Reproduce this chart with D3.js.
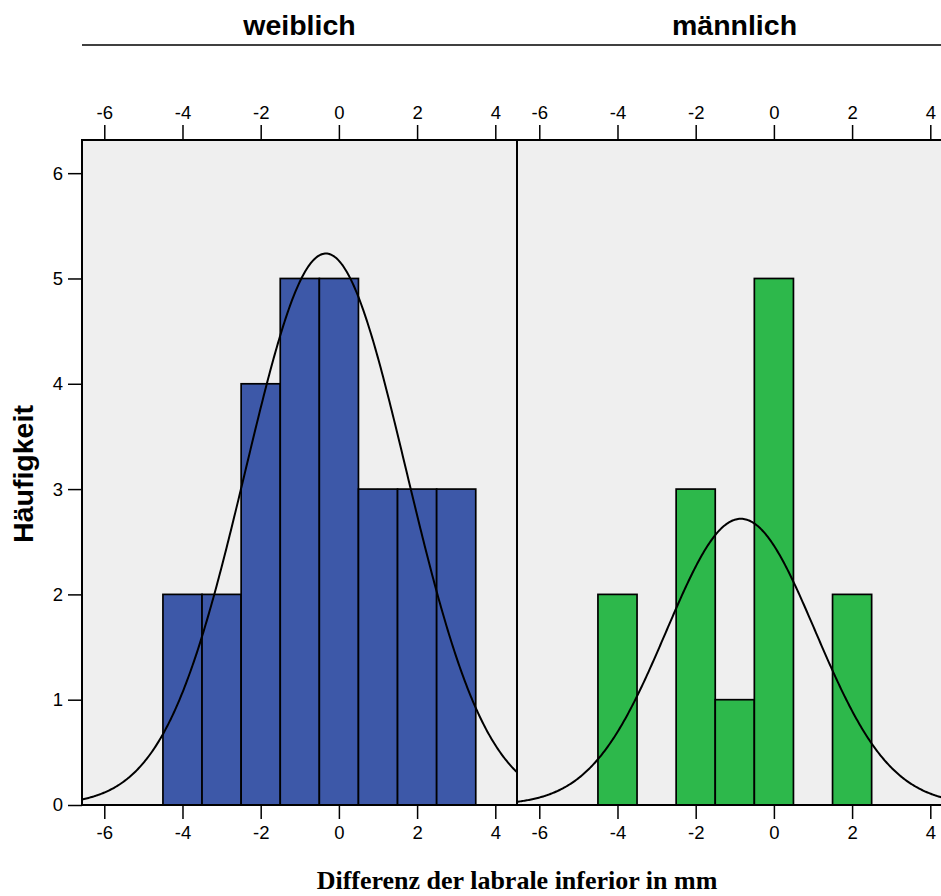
<!DOCTYPE html>
<html>
<head>
<meta charset="utf-8">
<script src="https://cdn.jsdelivr.net/npm/d3@7/dist/d3.min.js"></script>
<style>
  html, body { margin: 0; padding: 0; background: #ffffff; }
  svg { display: block; }
</style>
</head>
<body>
<svg id="chart" width="941" height="896"></svg>
<script>
// Histogram bins: width 1 mm, centred on integer differences
const binCenters = [-4, -3, -2, -1, 0, 1, 2, 3];
const countsWeiblich = [2, 2, 4, 5, 5, 3, 3, 3];
const countsMaennlich = [2, 0, 3, 1, 5, 0, 2, 0];

const panelTitles = ["weiblich", "männlich"];
const panelColors = ["#3d58a8", "#2db84b"];
const xTicks = [-6, -4, -2, 0, 2, 4];
const yTicks = [0, 1, 2, 3, 4, 5, 6];
const xTitle = "Differenz der labrale inferior in mm";
const yTitle = "Häufigkeit";

const svg = d3.select("#chart");

const panelW = 435;
const plotTop = 140, plotBottom = 805;
const panelLefts = [82, 517];

const y = d3.scaleLinear().domain([0, 6.315]).range([plotBottom, plotTop]);

// Normal curve from the binned counts (mean, sample SD, scaled to counts)
function normalFit(centers, counts) {
  const n = d3.sum(counts);
  const mean = d3.sum(centers, (c, i) => c * counts[i]) / n;
  const ss = d3.sum(centers, (c, i) => counts[i] * (c - mean) ** 2);
  const sd = Math.sqrt(ss / (n - 1));
  return x => n * 1 / (sd * Math.sqrt(2 * Math.PI)) * Math.exp(-0.5 * ((x - mean) / sd) ** 2);
}

const panels = [countsWeiblich, countsMaennlich];
const plainNum = d => String(d);   // ASCII hyphen for negatives

// header rule above both panels
svg.append("line")
  .attr("x1", 82).attr("x2", 941).attr("y1", 45).attr("y2", 45)
  .attr("stroke", "#000").attr("stroke-width", 1.5);

const defs = svg.append("defs");
const fontSans = "Liberation Sans, Arial, sans-serif";

panels.forEach((counts, p) => {
  const left = panelLefts[p];
  const x = d3.scaleLinear().domain([-6.57, 4.555]).range([left, left + panelW]);

  defs.append("clipPath").attr("id", "clip" + p)
    .append("rect").attr("x", left).attr("y", plotTop)
    .attr("width", panelW).attr("height", plotBottom - plotTop);

  // panel title
  svg.append("text")
    .attr("x", left + panelW / 2).attr("y", 35)
    .attr("text-anchor", "middle")
    .attr("font-family", fontSans)
    .attr("font-weight", "bold").attr("font-size", 28.5)
    .text(panelTitles[p]);

  // background
  svg.append("rect")
    .attr("x", left).attr("y", plotTop).attr("width", panelW).attr("height", plotBottom - plotTop)
    .attr("fill", "#efefef");

  const g = svg.append("g").attr("clip-path", "url(#clip" + p + ")");

  // bars
  g.selectAll("rect.bar")
    .data(binCenters.map((c, i) => ({ c, v: counts[i] })).filter(d => d.v > 0))
    .join("rect")
    .attr("class", "bar")
    .attr("x", d => x(d.c - 0.5))
    .attr("width", d => x(d.c + 0.5) - x(d.c - 0.5))
    .attr("y", d => y(d.v))
    .attr("height", d => y(0) - y(d.v))
    .attr("fill", panelColors[p])
    .attr("stroke", "#000").attr("stroke-width", 1.7);

  // fitted normal curve
  const f = normalFit(binCenters, counts);
  const pts = d3.range(0, 401).map(i => {
    const xv = -6.6 + i * (4.6 + 6.6) / 400;
    return [xv, f(xv)];
  });
  g.append("path")
    .attr("d", d3.line().x(d => x(d[0])).y(d => y(d[1]))(pts))
    .attr("fill", "none").attr("stroke", "#000").attr("stroke-width", 2);

  // axes top and bottom
  const topAxis = svg.append("g").attr("transform", `translate(0,${plotTop})`)
    .call(d3.axisTop(x).tickValues(xTicks).tickFormat(plainNum).tickSize(15).tickPadding(6).tickSizeOuter(0));
  const botAxis = svg.append("g").attr("transform", `translate(0,${plotBottom})`)
    .call(d3.axisBottom(x).tickValues(xTicks).tickFormat(plainNum).tickSize(14).tickPadding(7).tickSizeOuter(0));
  [topAxis, botAxis].forEach(a => {
    a.select(".domain").remove();
    a.selectAll("line").attr("stroke", "#000").attr("stroke-width", 1.5);
    a.selectAll("text").attr("font-family", fontSans).attr("font-size", 18.5).attr("fill", "#000");
  });

  // panel frame
  svg.append("rect")
    .attr("x", left).attr("y", plotTop).attr("width", panelW).attr("height", plotBottom - plotTop)
    .attr("fill", "none").attr("stroke", "#000").attr("stroke-width", 2);
});

// y axis
const yAxis = svg.append("g").attr("transform", `translate(82,0)`)
  .call(d3.axisLeft(y).tickValues(yTicks).tickFormat(plainNum).tickSize(14).tickPadding(5).tickSizeOuter(0));
yAxis.select(".domain").remove();
yAxis.selectAll("line").attr("stroke", "#000").attr("stroke-width", 1.5);
yAxis.selectAll("text").attr("font-family", fontSans).attr("font-size", 18.5).attr("fill", "#000");

// axis titles
svg.append("text")
  .attr("transform", "translate(33,474) rotate(-90)")
  .attr("text-anchor", "middle")
  .attr("font-family", fontSans)
  .attr("font-weight", "bold").attr("font-size", 28.5)
  .text(yTitle);

svg.append("text")
  .attr("x", 517).attr("y", 889)
  .attr("text-anchor", "middle")
  .attr("font-family", "Liberation Serif, Times New Roman, serif")
  .attr("font-weight", "bold").attr("font-size", 26)
  .text(xTitle);
</script>
</body>
</html>
